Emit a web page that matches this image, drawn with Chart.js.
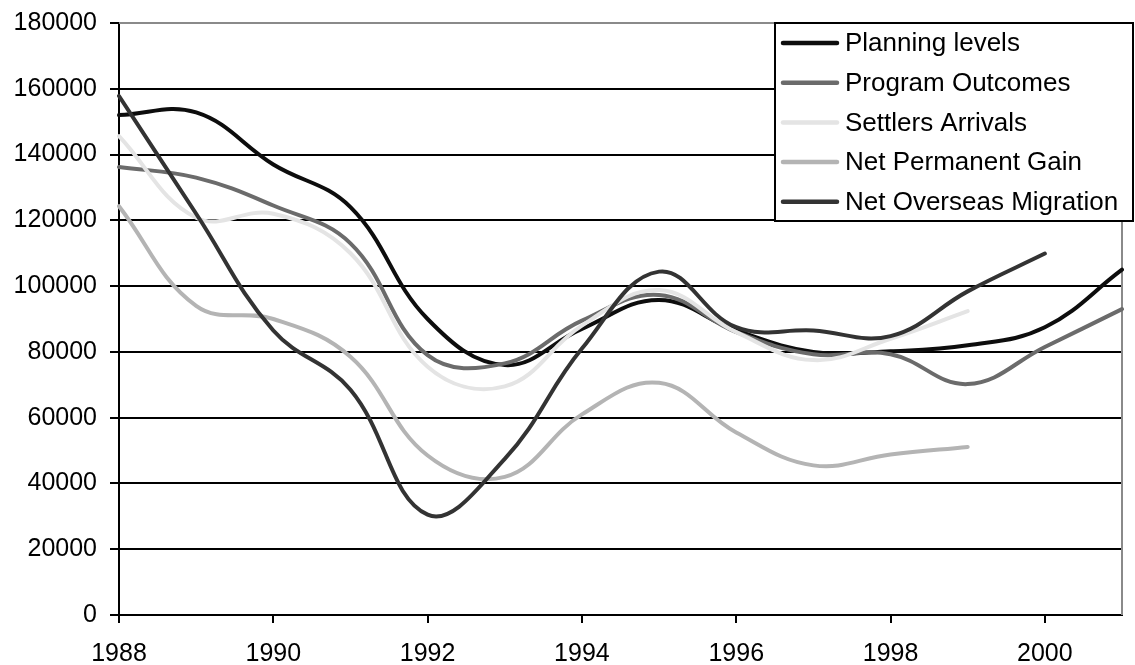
<!DOCTYPE html>
<html>
<head>
<meta charset="utf-8">
<script src="https://cdn.jsdelivr.net/npm/chart.js@4/dist/chart.umd.min.js"></script>
<style>
  html, body { margin: 0; padding: 0; background: #fff; }
  #wrap { width: 1135px; height: 665px; position: relative; }
</style>
</head>
<body>
<div id="wrap"><canvas id="migration"></canvas></div>
<script>
// years on the category axis
var years = ['1988', '1989', '1990', '1991', '1992', '1993', '1994',
             '1995', '1996', '1997', '1998', '1999', '2000', '2001'];

var seriesNames = ['Planning levels', 'Program Outcomes', 'Settlers Arrivals',
                   'Net Permanent Gain', 'Net Overseas Migration'];

var planningLevels   = [152000, 152800, 137000, 124000, 90000, 76000, 87000, 95800, 86500, 80000, 80200, 82000, 87500, 105000];
var programOutcomes  = [136200, 133000, 124500, 113000, 79000, 76500, 89500, 97300, 86000, 79300, 79300, 70200, 81500, 93000];
var settlersArrivals = [145600, 120800, 122000, 110000, 75500, 69500, 88000, 98800, 86000, 77500, 84000, 92400, null, null];
var netPermanentGain = [124300, 94000, 90000, 78500, 48500, 42000, 61000, 70600, 55500, 45500, 48800, 51100, null, null];
var netOverseasMig   = [157800, 122000, 86500, 68500, 30500, 47500, 81000, 104400, 87500, 86500, 84800, 98400, 109900, null];

var yTicks = [0, 20000, 40000, 60000, 80000, 100000, 120000, 140000, 160000, 180000];

var colors = ['#0d0d0d', '#6b6b6b', '#e4e4e4', '#b4b4b4', '#333333'];
var allSeries = [planningLevels, programOutcomes, settlersArrivals, netPermanentGain, netOverseasMig];

var FONT = "'Liberation Sans', Arial, sans-serif";

// plot frame (grey top/right) and boxed legend drawn over the lines
var framePlugin = {
    id: 'frame',
    beforeDatasetsDraw: function (chart) {
        var a = chart.chartArea, c = chart.ctx;
        c.save();
        c.strokeStyle = '#8a8a8a';
        c.lineWidth = 2;
        c.beginPath();
        c.moveTo(a.left, a.top);
        c.lineTo(a.right, a.top);
        c.lineTo(a.right, a.bottom);
        c.stroke();
        c.restore();
    }
};

var boxLegend = {
    id: 'boxLegend',
    afterDraw: function (chart) {
        var c = chart.ctx;
        var x0 = 775, y0 = 23, w = 358, h = 198;
        c.save();
        c.fillStyle = '#fff';
        c.fillRect(x0, y0, w, h);
        c.strokeStyle = '#000';
        c.lineWidth = 2;
        c.strokeRect(x0, y0, w, h);
        c.font = '26px ' + FONT;
        c.textBaseline = 'middle';
        c.fillStyle = '#000';
        chart.data.datasets.forEach(function (ds, i) {
            var y = y0 + 20 + i * 39.7;
            c.strokeStyle = ds.borderColor;
            c.lineWidth = 4.5;
            c.lineCap = 'round';
            c.beginPath();
            c.moveTo(783, y);
            c.lineTo(837, y);
            c.stroke();
            c.fillText(ds.label, 845, y + 1);
        });
        c.restore();
    }
};

function noPad(s) {
    s.paddingTop = 0;
    s.paddingBottom = 0;
    s.paddingLeft = 0;
    s.paddingRight = 0;
}

var ctx = document.getElementById('migration').getContext('2d');
var chart = new Chart(ctx, {
    type: 'line',
    data: {
        labels: years,
        datasets: allSeries.map(function (vals, i) {
            return {
                label: seriesNames[i],
                data: vals,
                borderColor: colors[i],
                backgroundColor: colors[i],
                borderWidth: 4,
                borderCapStyle: 'round',
                pointRadius: 0,
                tension: 0.4,
                fill: false,
                order: allSeries.length - 1 - i
            };
        })
    },
    options: {
        responsive: true,
        maintainAspectRatio: false,
        animation: false,
        layout: { padding: { top: 23, right: 13, left: 0, bottom: 0 } },
        plugins: {
            legend: { display: false },
            tooltip: { enabled: false }
        },
        scales: {
            x: {
                type: 'category',
                offset: false,
                afterFit: function (s) { s.height = 50; noPad(s); },
                border: { color: '#000', width: 2 },
                grid: {
                    drawOnChartArea: false,
                    lineWidth: 2,
                    tickLength: 8,
                    tickColor: function (c) { return c.index % 2 === 0 ? '#000' : 'rgba(0,0,0,0)'; }
                },
                ticks: {
                    autoSkip: false,
                    maxRotation: 0,
                    padding: 16,
                    color: '#000',
                    font: { family: FONT, size: 25 },
                    callback: function (v, i) { return i % 2 === 0 ? years[i] : ''; }
                }
            },
            y: {
                min: 0,
                max: 180000,
                afterFit: function (s) { s.width = 119; noPad(s); },
                afterBuildTicks: function (s) { s.ticks = yTicks.map(function (v) { return { value: v }; }); },
                border: { color: '#000', width: 2 },
                grid: {
                    lineWidth: 2,
                    tickLength: 9,
                    tickColor: '#000',
                    color: function (c) { return c.tick && c.tick.value === 180000 ? '#8a8a8a' : '#000'; }
                },
                ticks: {
                    padding: 13,
                    color: '#000',
                    font: { family: FONT, size: 25 },
                    callback: function (v) { return String(v); }
                }
            }
        }
    },
    plugins: [framePlugin, boxLegend]
});
</script>
</body>
</html>
